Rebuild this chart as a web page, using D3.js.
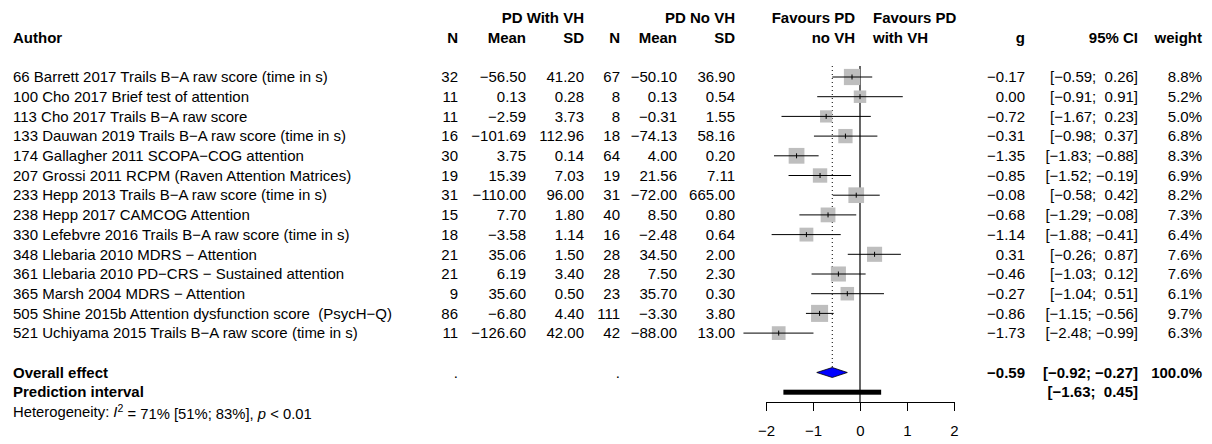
<!DOCTYPE html>
<html>
<head>
<meta charset="utf-8">
<script src="https://cdn.jsdelivr.net/npm/d3@7"></script>
<style>
  body { margin: 0; background: #fff; }
  text { font-family: "Liberation Sans", Arial, Helvetica, sans-serif; white-space: pre; }
</style>
</head>
<body>
<div id="chart"></div>
<script>
/** study data */
var studies = [
  "66 Barrett 2017 Trails B\u2212A raw score (time in s)",
  "100 Cho 2017 Brief test of attention",
  "113 Cho 2017 Trails B\u2212A raw score",
  "133 Dauwan 2019 Trails B\u2212A raw score (time in s)",
  "174 Gallagher 2011 SCOPA\u2212COG attention",
  "207 Grossi 2011 RCPM (Raven Attention Matrices)",
  "233 Hepp 2013 Trails B\u2212A raw score (time in s)",
  "238 Hepp 2017 CAMCOG Attention",
  "330 Lefebvre 2016 Trails B\u2212A raw score (time in s)",
  "348 Llebaria 2010 MDRS \u2212 Attention",
  "361 Llebaria 2010 PD\u2212CRS \u2212 Sustained attention",
  "365 Marsh 2004 MDRS \u2212 Attention",
  "505 Shine 2015b Attention dysfunction score  (PsycH\u2212Q)",
  "521 Uchiyama 2015 Trails B\u2212A raw score (time in s)"
];
var nVH    = [32, 11, 11, 16, 30, 19, 31, 15, 18, 21, 21, 9, 86, 11];
var meanVH = [-56.50, 0.13, -2.59, -101.69, 3.75, 15.39, -110.00, 7.70, -3.58, 35.06, 6.19, 35.60, -6.80, -126.60];
var sdVH   = [41.20, 0.28, 3.73, 112.96, 0.14, 7.03, 96.00, 1.80, 1.14, 1.50, 3.40, 0.50, 4.40, 42.00];
var nNo    = [67, 8, 8, 18, 64, 19, 31, 40, 16, 28, 28, 23, 111, 42];
var meanNo = [-50.10, 0.13, -0.31, -74.13, 4.00, 21.56, -72.00, 8.50, -2.48, 34.50, 7.50, 35.70, -3.30, -88.00];
var sdNo   = [36.90, 0.54, 1.55, 58.16, 0.20, 7.11, 665.00, 0.80, 0.64, 2.00, 2.30, 0.30, 3.80, 13.00];
var g      = [-0.17, 0.00, -0.72, -0.31, -1.35, -0.85, -0.08, -0.68, -1.14, 0.31, -0.46, -0.27, -0.86, -1.73];
var lower  = [-0.59, -0.91, -1.67, -0.98, -1.83, -1.52, -0.58, -1.29, -1.88, -0.26, -1.03, -1.04, -1.15, -2.48];
var upper  = [0.26, 0.91, 0.23, 0.37, -0.88, -0.19, 0.42, -0.08, -0.41, 0.87, 0.12, 0.51, -0.56, -0.99];
var weight = [8.8, 5.2, 5.0, 6.8, 8.3, 6.9, 8.2, 7.3, 6.4, 7.6, 7.6, 6.1, 9.7, 6.3];

/** pooled effect [g, lower, upper, weight] and prediction interval */
var overall = [-0.59, -0.92, -0.27, 100.0];
var predInt = [-1.63, 0.45];
var xTicks = [-2, -1, 0, 1, 2];

var width = 1212, height = 444, fs = 15;

var svg = d3.select("#chart")
  .append("svg")
    .attr("width", width)
    .attr("height", height);

/** row index -> y centre */
var row = d3.scaleLinear().domain([0, 1]).range([77, 96.7]);
/** effect size -> x */
var x = d3.scaleLinear().domain([-2, 2]).range([766, 954]);
/** box side from weight (area ~ weight) */
var box = d3.scaleSqrt().domain([0, 10]).range([0, 17.3]);

var f2 = d3.format(".2f"), f1 = d3.format(".1f");
function ci(l, u) { return "[" + f2(l) + ";" + (u < 0 ? " " : "  ") + f2(u) + "]"; }

/** add a text label */
function label(xp, r, txt, anchor, bold, size) {
  return svg.append("text")
    .attr("x", xp)
    .attr("y", row(r))
    .attr("dy", "0.35em")
    .attr("text-anchor", anchor || "start")
    .attr("font-weight", bold ? "bold" : "normal")
    .attr("font-size", size || fs)
    .text(txt);
}

/** headers */
label(584, -3, "PD With VH", "end", true);
label(735, -3, "PD No VH", "end", true);
label(855, -3, "Favours PD", "end", true);
label(873, -3, "Favours PD", "start", true);
label(13, -2, "Author", "start", true);
label(458, -2, "N", "end", true);
label(526, -2, "Mean", "end", true);
label(584, -2, "SD", "end", true);
label(620, -2, "N", "end", true);
label(677, -2, "Mean", "end", true);
label(735, -2, "SD", "end", true);
label(855, -2, "no VH", "end", true);
label(873, -2, "with VH", "start", true);
label(1025, -2, "g", "end", true);
label(1138, -2, "95% CI", "end", true);
label(1202, -2, "weight", "end", true);

/** study table columns */
studies.forEach(function(s, i) {
  label(13, i, s, "start");
  label(458, i, nVH[i], "end");
  label(526, i, f2(meanVH[i]), "end");
  label(584, i, f2(sdVH[i]), "end");
  label(620, i, nNo[i], "end");
  label(677, i, f2(meanNo[i]), "end");
  label(735, i, f2(sdNo[i]), "end");
  label(1025, i, f2(g[i]), "end");
  label(1138, i, ci(lower[i], upper[i]), "end");
  label(1202, i, f1(weight[i]) + "%", "end");
});

/** summary rows */
var rOv = 15, rPi = 16;
label(13, rOv, "Overall effect", "start", true);
label(458, rOv, ".", "end");
label(620, rOv, ".", "end");
label(1025, rOv, f2(overall[0]), "end", true);
label(1138, rOv, ci(overall[1], overall[2]), "end", true);
label(1202, rOv, f1(overall[3]) + "%", "end", true);
label(13, rPi, "Prediction interval", "start", true);
label(1138, rPi, ci(predInt[0], predInt[1]), "end", true);

/** heterogeneity line */
var het = label(13, 17, "", "start", false, 14.8);
het.append("tspan").text("Heterogeneity: ");
het.append("tspan").attr("font-style", "italic").text("I");
het.append("tspan").attr("font-size", 10.5).attr("dy", "-0.5em").text("2");
het.append("tspan").attr("dy", "0.5em").text(" = 71% [51%; 83%], ");
het.append("tspan").attr("font-style", "italic").text("p");
het.append("tspan").text(" < 0.01");

/** axis */
var axisY = 402;
var ax = svg.append("g")
  .attr("transform", "translate(0," + axisY + ")")
  .call(d3.axisBottom(x).tickValues(xTicks).tickFormat(d3.format("d")).tickSize(9).tickSizeOuter(0).tickPadding(14));
ax.selectAll("text").attr("font-size", fs).attr("font-family", "Liberation Sans, Arial, sans-serif").attr("fill", "#000");
ax.selectAll("line, path").attr("stroke", "#000");

/** reference lines: null effect and pooled estimate */
var lineTop = row(0) - 11;
svg.append("line")
  .attr("x1", x(0)).attr("x2", x(0))
  .attr("y1", lineTop).attr("y2", axisY)
  .attr("stroke", "#000").attr("stroke-width", 1.2);
svg.append("line")
  .attr("x1", x(overall[0])).attr("x2", x(overall[0]))
  .attr("y1", lineTop).attr("y2", row(rOv) - 5)
  .attr("stroke", "#000").attr("stroke-width", 1)
  .attr("stroke-dasharray", "1,3");

/** study boxes, CI lines and estimate ticks */
var st = svg.append("g").selectAll("g")
  .data(g)
  .enter()
  .append("g");

st.append("rect")
  .attr("x", function(d, i) { return x(d) - box(weight[i]) / 2; })
  .attr("y", function(d, i) { return row(i) - box(weight[i]) / 2; })
  .attr("width", function(d, i) { return box(weight[i]); })
  .attr("height", function(d, i) { return box(weight[i]); })
  .attr("fill", "#bebebe");

st.append("line")
  .attr("x1", function(d, i) { return x(Math.max(lower[i], -2.6)); })
  .attr("x2", function(d, i) { return x(upper[i]); })
  .attr("y1", function(d, i) { return row(i); })
  .attr("y2", function(d, i) { return row(i); })
  .attr("stroke", "#000").attr("stroke-width", 1);

st.append("line")
  .attr("x1", function(d) { return x(d); })
  .attr("x2", function(d) { return x(d); })
  .attr("y1", function(d, i) { return row(i) - 2.5; })
  .attr("y2", function(d, i) { return row(i) + 2.5; })
  .attr("stroke", "#000").attr("stroke-width", 1);

/** pooled diamond */
var yo = row(rOv);
svg.append("path")
  .attr("d", "M" + x(overall[1]) + "," + yo +
             "L" + x(overall[0]) + "," + (yo - 5) +
             "L" + x(overall[2]) + "," + yo +
             "L" + x(overall[0]) + "," + (yo + 5) + "Z")
  .attr("fill", "#0000ff")
  .attr("stroke", "#000").attr("stroke-width", 0.8);

/** prediction interval bar */
svg.append("rect")
  .attr("x", x(predInt[0]))
  .attr("y", row(rPi) - 2.5)
  .attr("width", x(predInt[1]) - x(predInt[0]))
  .attr("height", 5)
  .attr("fill", "#000");
</script>
</body>
</html>
